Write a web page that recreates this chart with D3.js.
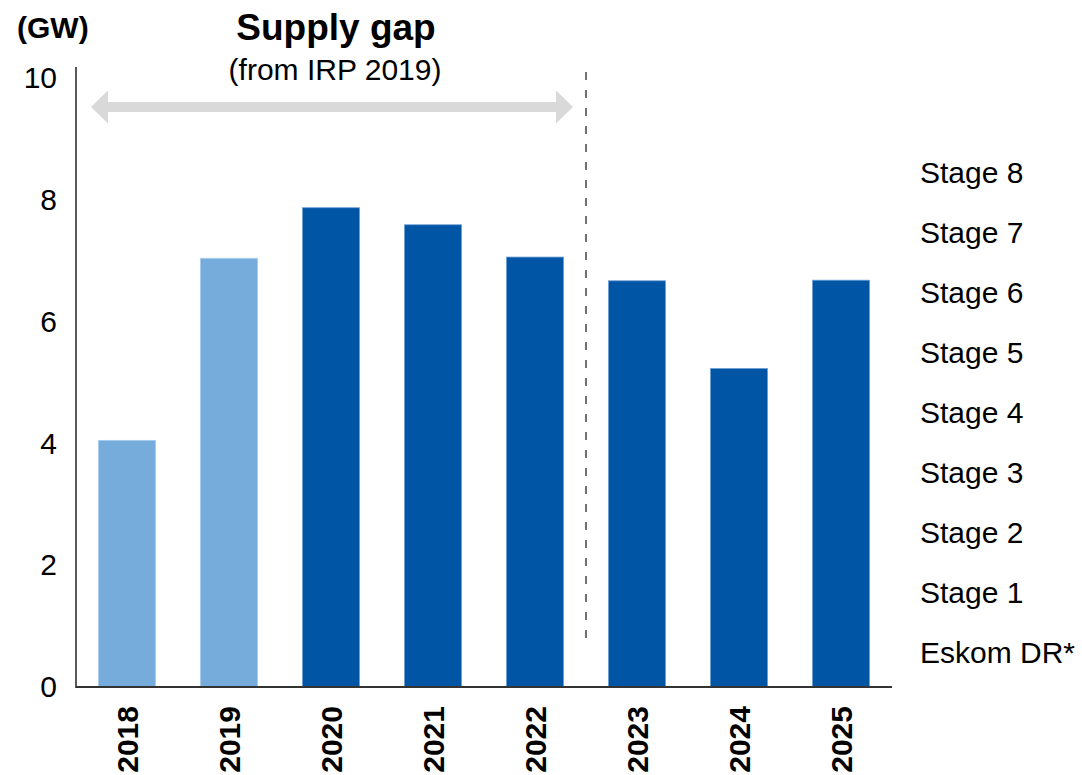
<!DOCTYPE html>
<html lang="en">
<head>
<meta charset="UTF-8">
<title>Supply gap</title>
<script src="https://d3js.org/d3.v7.min.js"></script>
<style>
  html, body { margin: 0; padding: 0; background: #fff; }
  svg { display: block; font-family: "Liberation Sans", Arial, sans-serif; }
</style>
</head>
<body>
<svg id="chart" width="1082" height="775"></svg>
<script>
// --- data ---
const years = ["2018", "2019", "2020", "2021", "2022", "2023", "2024", "2025"];
const values = [4.05, 7.04, 7.87, 7.59, 7.06, 6.67, 5.23, 6.68];
const historic = ["2018", "2019"]; // lighter bars
const yTicks = [0, 2, 4, 6, 8, 10];
const stages = ["Stage 8", "Stage 7", "Stage 6", "Stage 5", "Stage 4", "Stage 3", "Stage 2", "Stage 1", "Eskom DR*"];

const FONT = "Liberation Sans, Arial, sans-serif";
const svg = d3.select("#chart");

const x = d3.scaleBand().domain(years).range([76, 892]).paddingInner(0.44).paddingOuter(0.22);
const y = d3.scaleLinear().domain([0, 10]).range([687, 78]);

// bars
svg.selectAll(".bar")
  .data(years)
  .join("rect")
  .attr("class", "bar")
  .attr("x", d => x(d))
  .attr("y", (d, i) => y(values[i]))
  .attr("width", x.bandwidth())
  .attr("height", (d, i) => y(0) - y(values[i]))
  .attr("fill", d => historic.includes(d) ? "#75acdc" : "#0055a5")
  .attr("stroke", d => historic.includes(d) ? "#a9cdee" : "#6f9fd4")
  .attr("stroke-width", 0.8);

// y axis
const yAxis = svg.append("g")
  .attr("transform", "translate(76,0)")
  .call(d3.axisLeft(y).tickValues(yTicks).tickSize(0).tickPadding(19));
yAxis.select(".domain").remove();
yAxis.selectAll("text").attr("font-size", 30).attr("fill", "#000").attr("font-family", FONT);
svg.append("line")
  .attr("x1", 76).attr("x2", 76)
  .attr("y1", 67).attr("y2", y(0) + 1)
  .attr("stroke", "#222").attr("stroke-width", 1.5);

// x axis
const xAxis = svg.append("g")
  .attr("transform", `translate(0,${y(0)})`)
  .call(d3.axisBottom(x).tickSize(0).tickPadding(0));
xAxis.select(".domain").attr("stroke", "#333").attr("stroke-width", 2).attr("d", "M76,0H892");
xAxis.selectAll("text")
  .attr("transform", "rotate(-90)")
  .attr("text-anchor", "end")
  .attr("x", -19)
  .attr("y", 0)
  .attr("dy", "0.36em")
  .attr("font-size", 30)
  .attr("font-weight", "bold")
  .attr("fill", "#000")
  .attr("font-family", FONT);

// unit label
svg.append("text").attr("x", 17).attr("y", 38)
  .attr("font-size", 30).attr("font-weight", "bold").text("(GW)");

// dashed divider between 2022 and 2023
const divX = (x("2022") + x.bandwidth() + x("2023")) / 2;
svg.append("line")
  .attr("x1", divX).attr("x2", divX)
  .attr("y1", 72).attr("y2", 640)
  .attr("stroke", "#444").attr("stroke-width", 1.5)
  .attr("stroke-dasharray", "8,10");

// supply gap arrow
const ax0 = 91, ax1 = 573, ay = 107;
svg.append("rect")
  .attr("x", ax0 + 16).attr("y", ay - 5)
  .attr("width", ax1 - ax0 - 32).attr("height", 10)
  .attr("fill", "#d9d9d9");
svg.append("path")
  .attr("d", `M${ax0},${ay} L${ax0 + 17},${ay - 16.5} L${ax0 + 17},${ay + 16.5} Z`)
  .attr("fill", "#d9d9d9");
svg.append("path")
  .attr("d", `M${ax1},${ay} L${ax1 - 17},${ay - 16.5} L${ax1 - 17},${ay + 16.5} Z`)
  .attr("fill", "#d9d9d9");

svg.append("text").attr("x", 336).attr("y", 40)
  .attr("text-anchor", "middle").attr("font-size", 37).attr("font-weight", "bold")
  .text("Supply gap");
svg.append("text").attr("x", 335).attr("y", 80)
  .attr("text-anchor", "middle").attr("font-size", 30)
  .text("(from IRP 2019)");

// stage labels on the right
const stageY = d3.scalePoint().domain(stages).range([172, 652]);
svg.selectAll(".stage")
  .data(stages)
  .join("text")
  .attr("class", "stage")
  .attr("x", 920)
  .attr("y", d => stageY(d))
  .attr("dy", "0.36em")
  .attr("font-size", 30)
  .text(d => d);
</script>
</body>
</html>
